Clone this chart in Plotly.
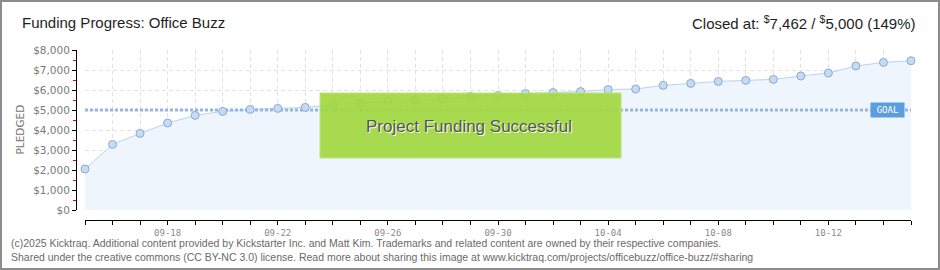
import plotly.graph_objects as go

# ---- data ----
dates = ["2025-09-%02d" % d for d in range(15, 31)] + ["2025-10-%02d" % d for d in range(1, 16)]
pledged = [2050, 3280, 3830, 4350, 4730, 4930, 5030, 5080, 5130, 5270,
           5350, 5450, 5500, 5550, 5680, 5720, 5820, 5870, 5920, 6020,
           6050, 6230, 6330, 6430, 6480, 6530, 6700, 6850, 7200, 7380, 7462]
GOAL = 5000
RAISED = 7462
project_name = "Office Buzz"
y_ticks = [0, 1000, 2000, 3000, 4000, 5000, 6000, 7000, 8000]
y_ticktext = ["$" + f"{v:,}" for v in y_ticks]
y_minor = [v + 500 for v in y_ticks[:-1]]

# ---- geometry helpers (pixel -> paper) ----
W, H = 940, 270
L, R, T, B = 76, 911, 50, 220
PW, PH = R - L, B - T


def px(x):
    return (x - L) / PW


def py(y):
    return (B - y) / PH


DAY = 86400000
grid_col = "#e2e2e2"

fig = go.Figure()

# area + line
fig.add_trace(go.Scatter(
    x=dates, y=pledged, mode="lines", fill="tozeroy",
    fillcolor="#eef5fd", line=dict(color="#b7d4f2", width=1),
    hoverinfo="skip", showlegend=False, cliponaxis=False))

# goal line
fig.add_trace(go.Scatter(
    x=[dates[0], dates[-1]], y=[GOAL, GOAL], mode="lines",
    line=dict(color="#93b7e2", width=3, dash="3px,2px"),
    hoverinfo="skip", showlegend=False))

# markers
fig.add_trace(go.Scatter(
    x=dates, y=pledged, mode="markers",
    marker=dict(size=8, color="#c4dbf5", line=dict(color="#8eaacb", width=1)),
    hoverinfo="skip", showlegend=False, cliponaxis=False))

x_dom = [9 / PW, 1]
y_dom = [10 / PH, 1]

fig.update_layout(
    width=W, height=H,
    margin=dict(l=L, r=W - R, t=T, b=H - B, pad=0),
    paper_bgcolor="white", plot_bgcolor="white",
    hovermode=False,
    xaxis=dict(
        type="date", range=[dates[0], dates[-1]], domain=x_dom,
        anchor="free", position=0,
        showline=True, linecolor="black", linewidth=1,
        ticks="outside", ticklen=4, tickcolor="black",
        tick0="2025-09-18", dtick=4 * DAY, tickformat="%m-%d",
        tickfont=dict(family="DejaVu Sans Mono", size=9, color="#8a8a8a"),
        showgrid=True, gridcolor=grid_col, griddash="4px,3px", gridwidth=1,
        zeroline=False,
        minor=dict(tick0="2025-09-15", dtick=DAY, ticks="outside", ticklen=4,
                   tickcolor="black", showgrid=True, gridcolor=grid_col,
                   griddash="4px,3px"),
    ),
    yaxis=dict(
        range=[0, 8000], domain=y_dom, anchor="free", position=0,
        showline=True, linecolor="black", linewidth=1,
        ticks="outside", ticklen=4, tickcolor="black",
        tickmode="array", tickvals=y_ticks, ticktext=y_ticktext,
        tickfont=dict(family="DejaVu Sans", size=10.5, color="#7a7a7a"),
        showgrid=True, gridcolor=grid_col, griddash="4px,3px",
        zeroline=False,
        minor=dict(tickmode="array", tickvals=y_minor, ticks="outside", ticklen=3,
                   tickcolor="#e00000", showgrid=False),
    ),
)

shapes = [
    # success box
    dict(type="rect", xref="paper", yref="paper",
         x0=px(320), x1=px(621), y0=py(158), y1=py(93),
         fillcolor="rgba(162,215,64,0.92)", line=dict(color="#bde37a", width=1),
         layer="above"),
    # outer border
    dict(type="rect", xref="paper", yref="paper",
         x0=px(1), x1=px(939), y0=py(269), y1=py(1),
         line=dict(color="#8c8c8c", width=2), fillcolor="rgba(0,0,0,0)",
         layer="above"),
]
fig.update_layout(shapes=shapes)

pct = round(100 * RAISED / GOAL)
annotations = [
    dict(text=f"Funding Progress: {project_name}", xref="paper", yref="paper",
         x=px(20), y=py(23), xanchor="left", yanchor="middle", showarrow=False,
         font=dict(family="Liberation Sans", size=15, color="#1e1e1e")),
    dict(text=f"Closed at: <sup>$</sup>{RAISED:,} / <sup>$</sup>{GOAL:,} ({pct}%)",
         xref="paper", yref="paper",
         x=px(918), y=py(23), xanchor="right", yanchor="middle", showarrow=False,
         font=dict(family="Liberation Sans", size=15, color="#1e1e1e")),
    dict(text="PLEDGED", xref="paper", yref="paper", x=px(19.5), y=py(130),
         textangle=-90, showarrow=False, xanchor="center", yanchor="middle",
         font=dict(family="DejaVu Sans", size=10.5, color="#777777")),
    dict(text="Project Funding Successful", xref="paper", yref="paper",
         x=px(469), y=py(126), xanchor="center", yanchor="middle", showarrow=False,
         font=dict(family="Liberation Sans", size=17,
                   color="#555555", shadow="1px 1px 0px #ffffff")),
    dict(text="GOAL", xref="paper", yref="y", x=px(887.5), y=GOAL,
         xanchor="center", yanchor="middle", showarrow=False,
         bgcolor="#5b9ddf", borderpad=1, width=31, height=12,
         font=dict(family="DejaVu Sans Mono", size=9, color="white")),
    dict(text="(c)2025 Kicktraq. Additional content provided by Kickstarter Inc. and Matt Kim. "
              "Trademarks and related content are owned by their respective companies.<br>"
              "Shared under the creative commons (CC BY-NC 3.0) license. Read more about sharing "
              "this image at www.kicktraq.com/projects/officebuzz/office-buzz/#sharing",
         xref="paper", yref="paper", x=px(9), y=py(249.5), xanchor="left",
         yanchor="middle", align="left", showarrow=False,
         font=dict(family="Liberation Sans", size=10.5, color="#6a6a6a")),
]
fig.update_layout(annotations=annotations)

fig.write_html("out.html")
